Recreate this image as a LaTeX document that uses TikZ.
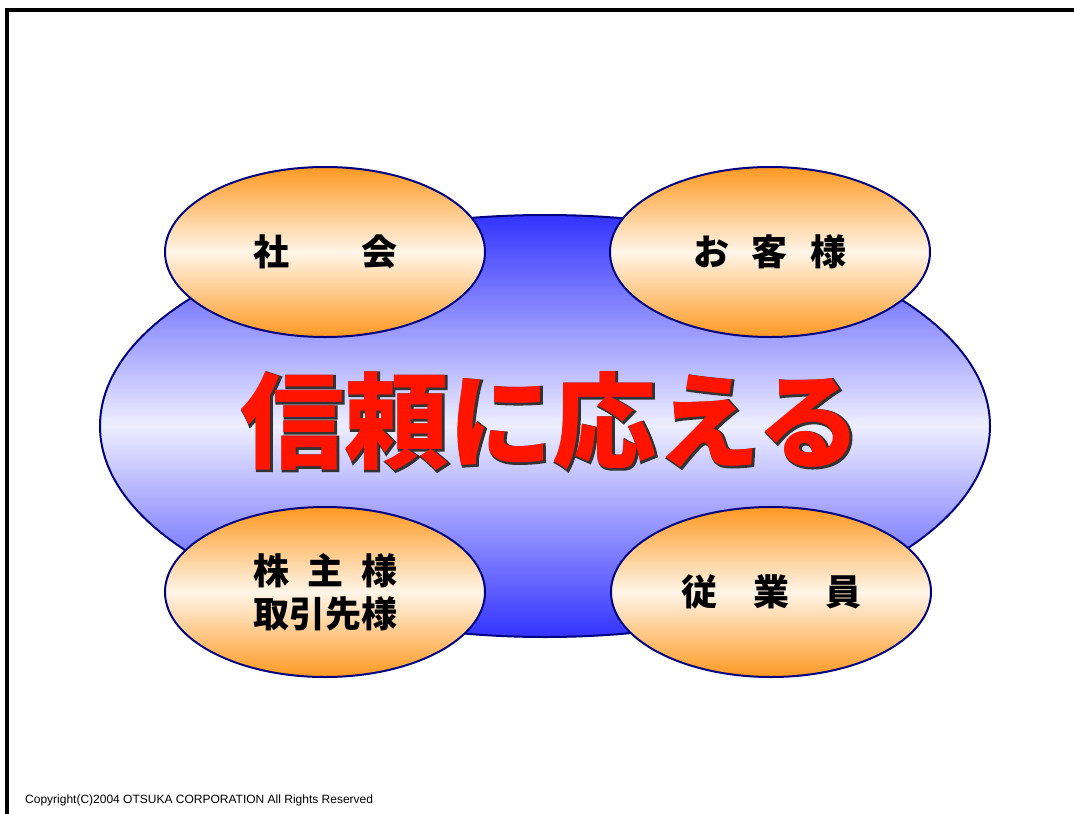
\documentclass[tikz,border=0pt]{standalone}
\usepackage{fontspec}
\setmainfont{Liberation Sans}
\newfontfamily\jpfont{Noto Sans CJK JP}
\newfontfamily\jprim{Noto Sans CJK JP}[FakeBold=2.5]
\usetikzlibrary{shapes.geometric}

\definecolor{navyline}{RGB}{0,0,128}
\definecolor{blueedge}{RGB}{51,51,255}
\definecolor{bluemid}{RGB}{238,238,255}
\definecolor{orangeedge}{RGB}{255,153,34}
\definecolor{orangemid}{RGB}{255,245,232}
\definecolor{slogred}{RGB}{255,20,0}

\tikzset{
  core/.style={ellipse, draw=navyline, line width=2pt, inner sep=0pt,
    minimum width=890pt, minimum height=422pt,
    top color=blueedge, bottom color=blueedge, middle color=bluemid},
  party/.style={ellipse, draw=navyline, line width=2pt, inner sep=0pt,
    minimum width=320pt, minimum height=170pt,
    top color=orangeedge, bottom color=orangeedge, middle color=orangemid,
    align=center, font=\jpfont\bfseries\fontsize{36}{43}\selectfont},
  bigtext/.style={inner sep=0pt, font=\jpfont\bfseries\fontsize{104}{110}\selectfont},
  rimtext/.style={inner sep=0pt, font=\jprim\bfseries\fontsize{104}{110}\selectfont}
}

\begin{document}
\begin{tikzpicture}[x=1pt, y=-1pt]
  \useasboundingbox (0,0) rectangle (1074,814);

  % Frame
  \draw[line width=4pt] (7,814) -- (7,10) -- (1074,10);

  % Centre ellipse
  \node[core] (core) at (545,426) {};

  % Stakeholders
  \node[party] (society)   at (325,252) {社　　会};
  \node[party] (customers) at (770,252) {お\hspace{0.62em}客\hspace{0.62em}様};
  \node[party] (holders)   at (325,592) {株\hspace{0.5em}主\hspace{0.5em}様\\取引先様};
  \node[party] (staff)     at (771,592) {従　業　員};

  % Slogan: dark rim, red face
  \node[rimtext, text=black!80] (rim) at (552,422) {信頼に応える};
  \node[bigtext, text=slogred] (slogan) at (551,421) {信頼に応える};

  % Footer
  \node[anchor=base west, inner sep=0pt, font=\fontsize{12}{14}\selectfont]
    (copyright) at (25,803) {Copyright(C)2004 OTSUKA CORPORATION All Rights Reserved};
\end{tikzpicture}
\end{document}
